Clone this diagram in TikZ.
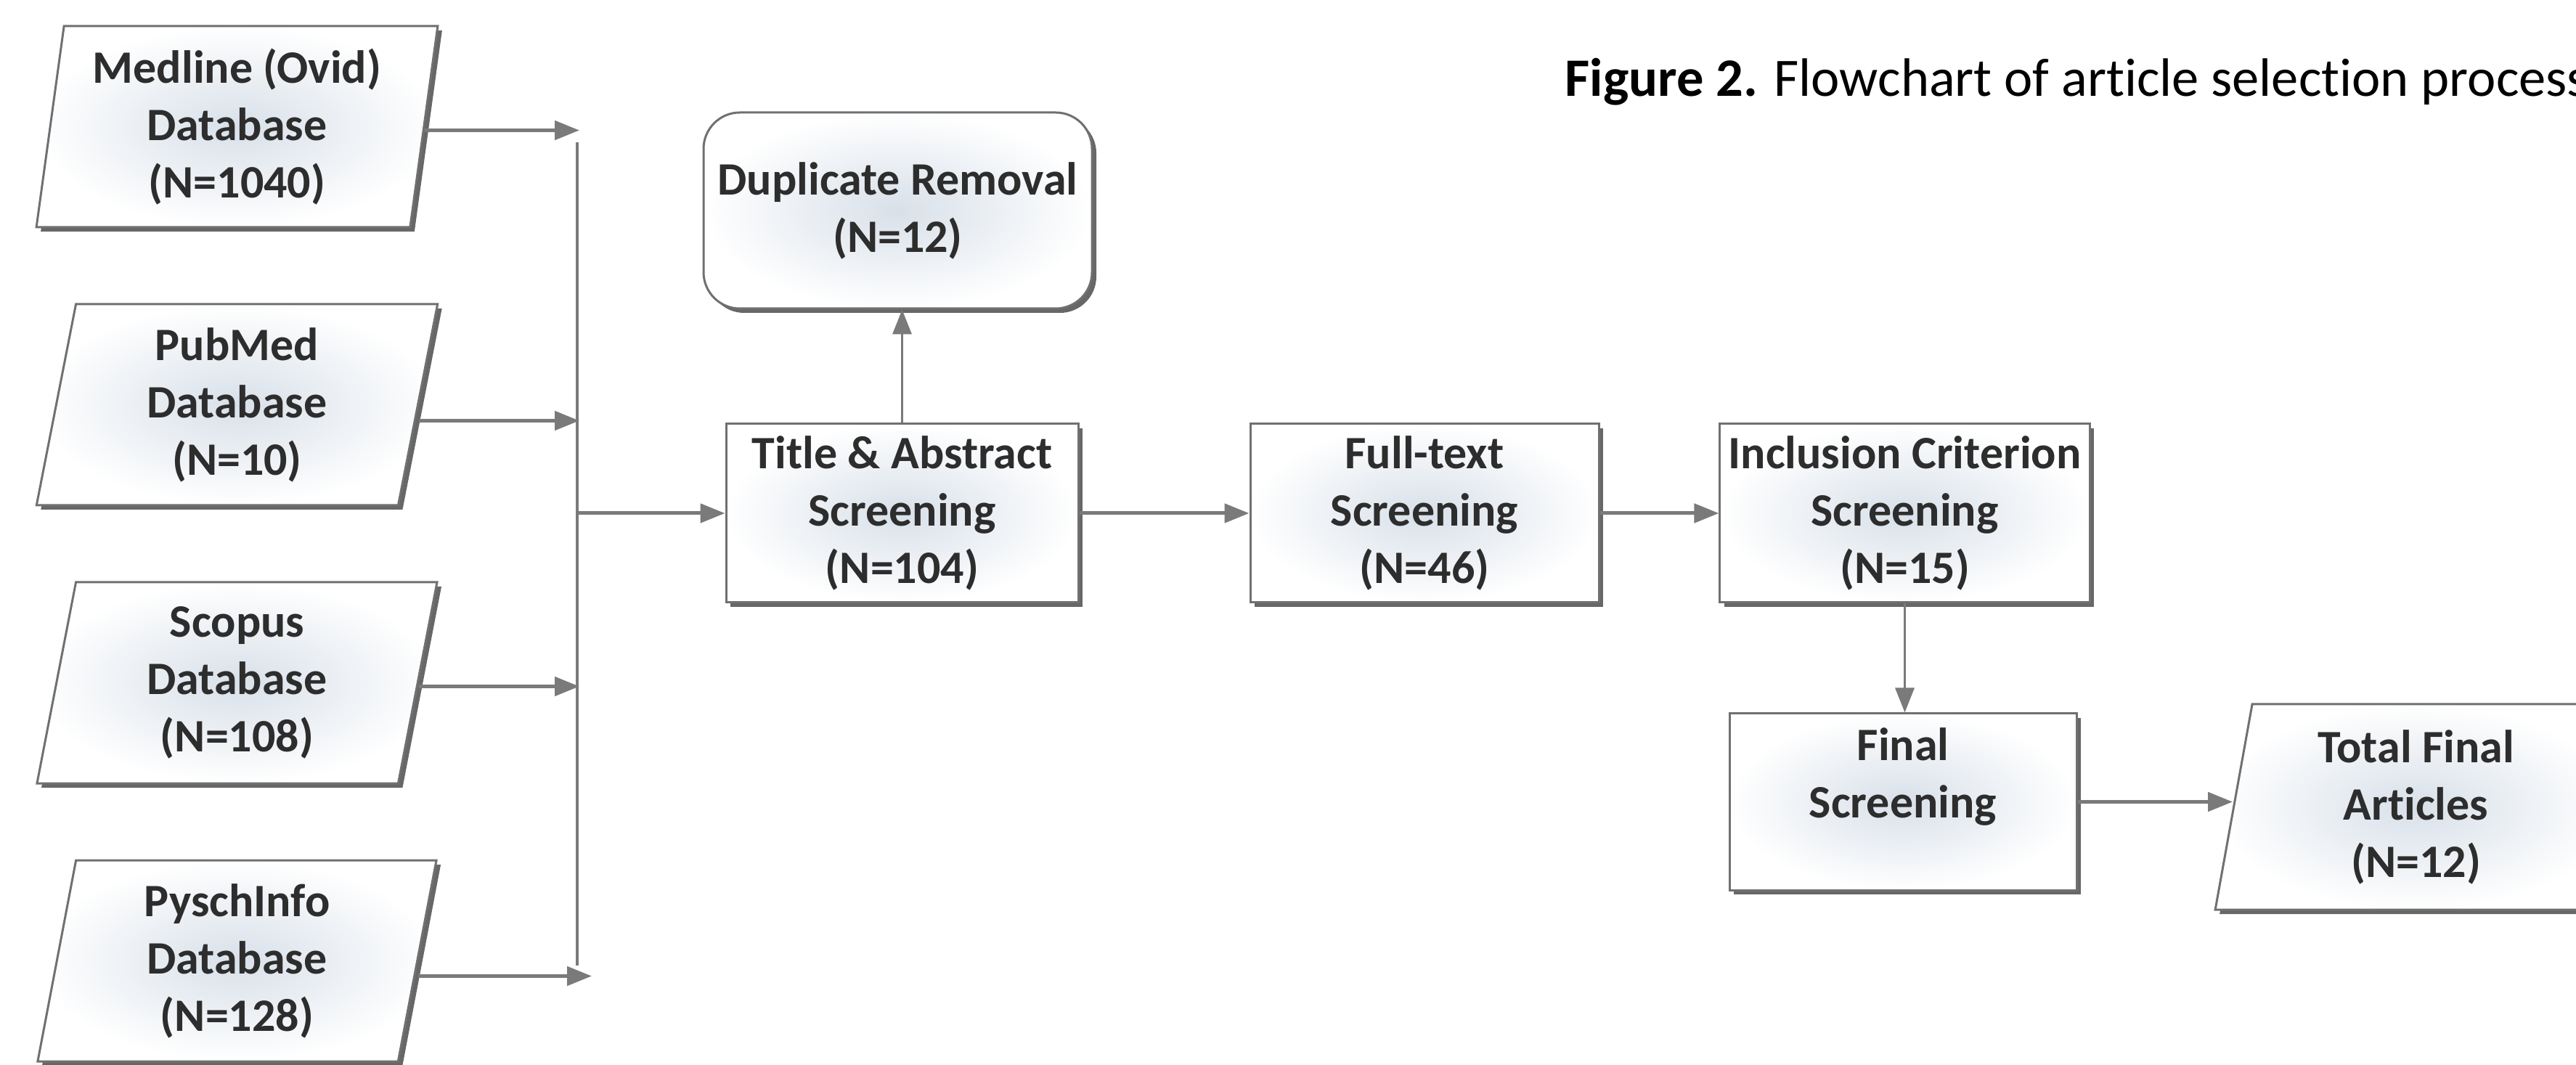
\documentclass[tikz,border=0pt]{standalone}
\usepackage{fontspec}
\setmainfont{Carlito}[Ligatures=NoCommon]
\usepackage{tikz}
\usetikzlibrary{shapes.geometric,shadows,arrows.meta}

\definecolor{boxline}{RGB}{112,112,112}
\definecolor{boxmid}{RGB}{216,224,233}
\definecolor{arrowgray}{RGB}{122,122,122}
\definecolor{boxtext}{RGB}{45,45,45}

\tikzset{
    basebox/.style={draw=boxline, line width=0.03cm, shading=radial, inner color=boxmid, outer color=white,
        drop shadow={shadow xshift=0.06cm, shadow yshift=-0.06cm, fill=black!70, opacity=0.85},
        align=center, text=boxtext, font=\fontsize{18.2}{22.5}\selectfont\bfseries},
    dbbox/.style={basebox, trapezium, trapezium left angle=82, trapezium right angle=98,
        trapezium stretches=true, minimum width=5.53cm, minimum height=2.77cm},
    stepbox/.style={basebox, rectangle, minimum width=4.85cm, minimum height=2.46cm},
    roundbox/.style={basebox, rectangle, rounded corners=0.5cm, minimum width=5.35cm, minimum height=2.7cm},
    flow/.style={draw=arrowgray, line width=0.05cm, -{Triangle[length=0.34cm,width=0.26cm]}},
    thinflow/.style={flow, line width=0.035cm}
}

\begin{document}
\begin{tikzpicture}
        \useasboundingbox (0,0) rectangle (35.48,14.66);

        % Databases
        \node[dbbox] (med) at (3.265,12.915) {Medline (Ovid)\\Database\\(N=1040)};
        \node[dbbox] (pub) at (3.265,9.085) {PubMed\\Database\\(N=10)};
        \node[dbbox] (sco) at (3.265,5.255) {Scopus\\Database\\(N=108)};
        \node[dbbox] (psy) at (3.265,1.425) {PyschInfo\\Database\\(N=128)};

        % Screening steps
        \node[stepbox] (tas) at (12.425,7.59) {Title \& Abstract\\Screening\\(N=104)};
        \node[roundbox] (dup) at (12.365,11.76) {Duplicate Removal\\(N=12)};
        \node[stepbox, minimum width=4.8cm] (full) at (19.62,7.59) {Full-text\\Screening\\(N=46)};
        \node[stepbox, minimum width=4.95cm] (incl) at (26.235,7.59) {Inclusion Criterion\\Screening\\(N=15)};
        \node[stepbox, minimum width=4.78cm, minimum height=2.43cm] (final) at (26.21,3.615) {Final\\Screening\\\mbox{}};
        \node[dbbox, minimum height=2.83cm] (total) at (33.275,3.545) {Total Final\\Articles\\(N=12)};

        % Title
        \node[anchor=base west, inner sep=0pt, font=\fontsize{21.2}{25}\selectfont] (fig) at (21.55,13.33)
            {\textbf{Figure 2.} Flowchart of article selection process};

        % Collecting line
        \coordinate (bustop) at (7.95,12.70);
        \coordinate (busbot) at (7.95,1.36);
        \coordinate (busmid) at (7.95,7.59);
        \draw[arrowgray, line width=0.035cm] (bustop) -- (busbot);
        \foreach \db/\dy in {med/-0.05, pub/-0.22, sco/-0.05} {
          \draw[flow] ([yshift=\dy cm]\db.east) -- ([xshift=0.03cm, yshift=\dy cm]\db.east -| bustop);
        }
        \draw[flow] ([yshift=-0.21cm]psy.east) -- ([xshift=0.2cm, yshift=-0.21cm]psy.east -| busbot);

        % Arrows between steps
        \draw[flow] (busmid) -- (tas.west);
        \draw[thinflow] (tas.north) -- (tas.north |- dup.south);
        \draw[flow] (tas.east) -- (full.west);
        \draw[flow] (full.east) -- (incl.west);
        \draw[thinflow] (incl.south) -- (incl.south |- final.north);
        \draw[flow] (final.east) -- (final.east -| total.west);
    \end{tikzpicture}
\end{document}
